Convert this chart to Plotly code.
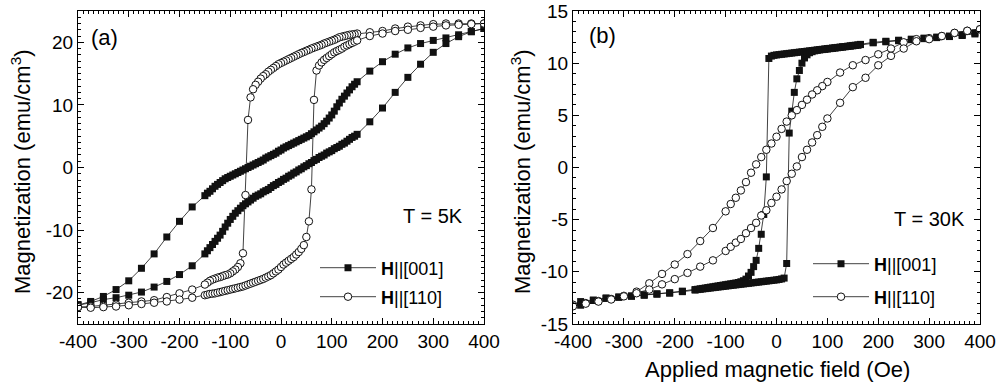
import plotly.graph_objects as go

# ---------------- data ----------------
# Panel (a), T = 5K : field grid for the descending branch (+400 -> -400), Oe
A_FIELD_DOWN = [400, 375, 350, 325, 300, 275, 250, 225, 200, 175, 150,
                145, 140, 135, 130, 125, 120, 115, 110, 105, 100,
                95, 90, 85, 80, 75, 70, 65, 60, 55, 50,
                45, 40, 35, 30, 25, 20, 15, 10, 5, 0,
                -5, -10, -15, -20, -25, -30, -35, -40, -45, -50,
                -55, -60, -65, -70, -75, -80, -85, -90, -95, -100,
                -105, -110, -115, -120, -125, -130, -135, -140, -145,
                -150, -175, -200, -225, -250, -275, -300, -325, -350, -375, -400]
A_FIELD_UP = A_FIELD_DOWN[::-1]

# H || [001], squares
a_sq_down = [22.2, 21.7, 21.2, 20.7, 20.3, 19.8, 19.1, 18.1, 16.9, 15.4, 13.7,
             13.3, 12.9, 12.4, 11.9, 11.4, 10.9, 10.3, 9.7, 9.0, 8.4,
             7.9, 7.4, 7.0, 6.6, 6.3, 6.0, 5.7, 5.4, 5.1, 4.9,
             4.7, 4.5, 4.3, 4.1, 3.9, 3.7, 3.5, 3.3, 3.1, 2.8,
             2.6, 2.3, 2.1, 1.9, 1.7, 1.5, 1.2, 1.0, 0.8, 0.6,
             0.4, 0.2, 0.0, -0.2, -0.4, -0.6, -0.8, -1.0, -1.2, -1.4,
             -1.6, -1.8, -2.1, -2.4, -2.7, -3.0, -3.4, -3.8, -4.1,
             -4.5, -6.3, -8.6, -11.1, -13.8, -16.1, -18.1, -19.5, -20.6, -21.4, -21.9]
a_sq_up = [-22.0, -21.6, -21.1, -20.8, -20.4, -19.9, -19.1, -18.2, -17.1, -15.7, -13.8,
           -13.3, -12.8, -12.3, -11.8, -11.3, -10.8, -10.2, -9.5, -8.9, -8.3,
           -7.8, -7.3, -6.9, -6.5, -6.1, -5.8, -5.5, -5.2, -4.9, -4.6,
           -4.4, -4.2, -3.9, -3.7, -3.5, -3.2, -2.9, -2.7, -2.4,
           -2.2, -1.9, -1.7, -1.4, -1.2, -0.9, -0.7, -0.4, -0.2, 0.1,
           0.3, 0.6, 0.8, 1.1, 1.3, 1.6, 1.8, 2.0, 2.3, 2.5,
           2.7, 3.0, 3.2, 3.4, 3.7, 3.9, 4.2, 4.5, 4.8, 5.0,
           5.3, 7.3, 9.5, 12.0, 14.4, 16.5, 18.4, 19.8, 20.9, 21.7, 22.2]

# H || [110], circles
a_ci_down = [23.0, 23.0, 23.0, 23.0, 22.9, 22.7, 22.5, 22.2, 21.8, 21.6, 21.4,
             21.3, 21.25, 21.2, 21.1, 21.0, 20.9, 20.8, 20.6, 20.4, 20.25,
             20.1, 19.95, 19.8, 19.6, 19.45, 19.3, 19.15, 19.0, 18.8, 18.65,
             18.45, 18.3, 18.1, 17.9, 17.7, 17.5, 17.3, 17.1, 16.9, 16.7,
             16.5, 16.2, 15.9, 15.6, 15.3, 14.9, 14.6, 14.2, 13.7, 13.2,
             12.5, 11.2, 7.6, -4.4, -13.7, -15.3, -15.9, -16.3, -16.6, -16.9,
             -17.1, -17.2, -17.35, -17.5, -17.6, -17.75, -17.9, -18.1, -18.4,
             -18.7, -19.5, -20.1, -20.7, -21.2, -21.4, -21.6, -21.9, -22.1, -22.2, -22.3]
a_ci_up = [-22.3, -22.4, -22.3, -22.2, -22.0, -21.8, -21.6, -21.4, -21.1, -20.8, -20.4,
           -20.3, -20.2, -20.15, -20.1, -20.0, -19.9, -19.8, -19.7, -19.6, -19.5,
           -19.4, -19.3, -19.2, -19.1, -19.0, -18.85, -18.7, -18.55, -18.4, -18.25,
           -18.1, -17.95, -17.8, -17.6, -17.4, -17.2, -16.9, -16.6, -16.3,
           -15.9, -15.5, -15.2, -14.9, -14.6, -14.3, -13.9, -13.5, -13.0, -12.4,
           -11.1, -8.6, -3.5, 10.8, 15.5, 16.3, 16.8, 17.2, 17.5, 17.8,
           18.1, 18.4, 18.6, 18.8, 19.0, 19.3, 19.5, 19.7, 19.9, 20.1,
           20.3, 21.0, 21.4, 21.8, 22.0, 22.3, 22.5, 22.7, 22.8, 22.9, 23.0]

# Panel (b), T = 30K : H || [001] squares, descending grid (Oe)
B_SQ_FIELD_DOWN = [390, 365, 340, 315, 290, 265, 240, 215, 190, 165,
                   160, 155, 150, 145, 140, 135, 130, 125, 120, 115, 110, 105, 100,
                   95, 90, 85, 80, 75, 70, 65, 60, 55, 50, 45, 40, 35, 30, 25, 20,
                   15, 10, 5, 0, -5, -10, -15, -20, -25, -30, -35, -40, -45, -50,
                   -55, -60, -65, -70, -75, -80, -85, -90, -95, -100, -105, -110,
                   -115, -120, -125, -130, -135, -140, -145, -150, -155,
                   -160, -185, -210, -235, -260, -285, -310, -335, -360, -385]
B_SQ_FIELD_UP = B_SQ_FIELD_DOWN[::-1]
b_sq_down = [12.9, 12.7, 12.6, 12.5, 12.4, 12.3, 12.2, 12.1, 12.0, 11.8,
             11.75, 11.72, 11.70, 11.66, 11.63, 11.60, 11.57, 11.54, 11.51, 11.48, 11.45, 11.42, 11.39,
             11.36, 11.33, 11.30, 11.27, 11.24, 11.21, 11.18, 11.15, 11.12, 11.09, 11.06, 11.03, 11.00, 10.97, 10.94, 10.91,
             10.88, 10.85, 10.82, 10.79, 10.75, 10.68, 10.45, -0.9, -4.5, -6.4, -7.75, -8.9, -9.5, -10.05,
             -10.4, -10.7, -10.85, -10.95, -11.02, -11.07, -11.11, -11.15, -11.19, -11.23, -11.27, -11.31,
             -11.35, -11.39, -11.43, -11.47, -11.51, -11.55, -11.59, -11.63, -11.67,
             -11.7, -11.85, -12.0, -12.1, -12.2, -12.3, -12.4, -12.5, -12.7, -12.85]
b_sq_up = [-13.2, -12.75, -12.55, -12.45, -12.35, -12.25, -12.15, -12.05, -11.9, -11.75,
           -11.7, -11.67, -11.64, -11.61, -11.58, -11.55, -11.52, -11.49, -11.46, -11.43,
           -11.4, -11.37, -11.34, -11.31, -11.28, -11.25, -11.22, -11.19, -11.16, -11.13,
           -11.1, -11.07, -11.04, -11.01, -10.98, -10.95, -10.92, -10.89, -10.86, -10.83, -10.8,
           -10.77, -10.73, -10.68, -10.6, -9.2, 3.3, 5.4, 7.2, 8.5, 9.3, 10.0, 10.5, 10.8,
           11.0, 11.1, 11.18, 11.23, 11.27, 11.3, 11.33, 11.36, 11.39, 11.42, 11.45, 11.48,
           11.51, 11.54, 11.57, 11.6, 11.63, 11.66, 11.69, 11.72,
           11.78, 11.95, 12.05, 12.15, 12.25, 12.35, 12.45, 12.55, 12.65, 12.8]

# Panel (b) : H || [110] circles, descending grid (Oe)
B_CI_FIELD_DOWN = [400, 375, 350, 325, 300, 275, 250, 225, 200, 175, 150, 125, 100,
                   90, 80, 70, 60, 50, 40, 30, 20, 10, 0, -10, -20, -30, -40, -50,
                   -60, -70, -80, -90,
                   -100, -125, -150, -175, -200, -225, -250, -275, -300, -325, -350, -375, -400]
B_CI_FIELD_UP = B_CI_FIELD_DOWN[::-1]
b_ci_down = [13.25, 13.1, 12.9, 12.6, 12.4, 12.3, 12.0, 11.4, 10.85, 10.3, 9.8, 9.1, 8.2,
             7.8, 7.4, 7.0, 6.5, 6.0, 5.5, 5.0, 4.4, 3.7, 2.95, 2.3, 1.7, 1.0, 0.3, -0.5,
             -1.4, -2.2, -2.9, -3.5,
             -4.2, -5.8, -7.05, -8.3, -9.3, -10.2, -11.1, -11.9, -12.3, -12.6, -12.8, -13.0, -13.15]
b_ci_up = [-13.3, -13.05, -12.85, -12.65, -12.35, -12.05, -11.7, -11.2, -10.7, -10.1, -9.5, -8.9, -8.0,
           -7.6, -7.2, -6.85, -6.3, -5.8, -5.3, -4.6, -4.1, -3.4, -2.8, -2.1, -1.3, -0.6, 0.1, 1.0,
           1.7, 2.4, 3.1, 3.9,
           4.7, 6.2, 7.7, 8.6, 9.8, 10.7, 11.4, 12.1, 12.3, 12.6, 12.9, 13.1, 13.25]

X_TICKS = [-400, -300, -200, -100, 0, 100, 200, 300, 400]
X_TICK_TEXT = ["-400", "-300", "-200", "-100", "0", "100", "200", "300", "400"]
YA_TICKS = [-20, -10, 0, 10, 20]
YA_TICK_TEXT = ["-20", "-10", "0", "10", "20"]
YB_TICKS = [-15, -10, -5, 0, 5, 10, 15]
YB_TICK_TEXT = ["-15", "-10", "-5", "0", "5", "10", "15"]

LEG_001 = "<b>H</b>||[001]"
LEG_110 = "<b>H</b>||[110]"

# ---------------- figure ----------------
W, H = 999, 389
FONT = "Liberation Sans, Arial, Helvetica, sans-serif"

def px(x):
    return x / W

def py(y):
    return (H - y) / H

sq_style = dict(mode="lines+markers",
                line=dict(color="#111111", width=0.8),
                marker=dict(symbol="square", size=7, color="#111111", line=dict(width=0)))
ci_style = dict(mode="lines+markers",
                line=dict(color="#111111", width=0.8),
                marker=dict(symbol="circle", size=7.5, color="white",
                            line=dict(color="#111111", width=1)))

fig = go.Figure()
fig.add_trace(go.Scatter(x=A_FIELD_DOWN + A_FIELD_UP, y=a_sq_down + a_sq_up,
                         name=LEG_001, xaxis="x", yaxis="y", legend="legend2", **sq_style))
fig.add_trace(go.Scatter(x=A_FIELD_DOWN + A_FIELD_UP, y=a_ci_down + a_ci_up,
                         name=LEG_110, xaxis="x", yaxis="y", legend="legend3", **ci_style))
fig.add_trace(go.Scatter(x=B_SQ_FIELD_DOWN + B_SQ_FIELD_UP, y=b_sq_down + b_sq_up,
                         name=LEG_001, xaxis="x2", yaxis="y2", legend="legend4", **sq_style))
fig.add_trace(go.Scatter(x=B_CI_FIELD_DOWN + B_CI_FIELD_UP, y=b_ci_down + b_ci_up,
                         name=LEG_110, xaxis="x2", yaxis="y2", legend="legend5", **ci_style))

def axis_common(minor_dtick):
    return dict(showline=True, linecolor="black", linewidth=1, mirror="allticks",
                ticks="inside", ticklen=6, tickwidth=1, tickcolor="black",
                minor=dict(ticks="inside", ticklen=3, tickwidth=1, tickcolor="black",
                           tickmode="linear", tick0=0, dtick=minor_dtick),
                showgrid=False, zeroline=False, automargin=False,
                tickfont=dict(family=FONT, size=19, color="black"),
                tickmode="array")

ydom = [py(324), py(11)]
fig.update_layout(
    width=W, height=H, margin=dict(l=0, r=0, t=0, b=0),
    paper_bgcolor="white", plot_bgcolor="white", showlegend=True,
    font=dict(family=FONT, color="black"),
    xaxis=dict(domain=[px(78), px(484)], range=[-400, 400], anchor="y",
               tickvals=X_TICKS, ticktext=X_TICK_TEXT, **axis_common(10)),
    yaxis=dict(domain=ydom, range=[-25, 25], anchor="x",
               tickvals=YA_TICKS, ticktext=YA_TICK_TEXT, **axis_common(1)),
    xaxis2=dict(domain=[px(573), px(980)], range=[-400, 400], anchor="y2",
                tickvals=X_TICKS, ticktext=X_TICK_TEXT, **axis_common(10)),
    yaxis2=dict(domain=ydom, range=[-15, 15], anchor="x2",
                tickvals=YB_TICKS, ticktext=YB_TICK_TEXT, **axis_common(1)),
)

leg_common = dict(font=dict(family=FONT, size=18, color="black"), bgcolor="rgba(0,0,0,0)",
                  borderwidth=0, itemwidth=56, xanchor="left", yanchor="middle",
                  itemclick=False, itemdoubleclick=False, visible=True)
fig.update_layout(
    legend=dict(visible=False),
    legend2=dict(x=px(315), y=py(268), **leg_common),
    legend3=dict(x=px(315), y=py(297), **leg_common),
    legend4=dict(x=px(808), y=py(264), **leg_common),
    legend5=dict(x=px(808), y=py(297), **leg_common),
)

ann = []
def add_text(text, x, y, size, xanchor="center", angle=0):
    ann.append(dict(text=text, x=px(x), y=py(y), xref="paper", yref="paper",
                    xanchor=xanchor, yanchor="middle", showarrow=False, textangle=angle,
                    font=dict(family=FONT, size=size, color="black")))

add_text("(a)", 89, 37, 22, "left")
add_text("(b)", 587, 35, 22, "left")
add_text("T = 5K", 465, 216, 20, "right")
add_text("T = 30K", 967, 219, 20, "right")
add_text("Magnetization (emu/cm<sup>3</sup>)", 21, 172, 22, "center", -90)
add_text("Magnetization (emu/cm<sup>3</sup>)", 521, 172, 22, "center", -90)
add_text("Applied magnetic field (Oe)", 777, 369, 22, "center")
fig.update_layout(annotations=ann)

fig.write_html("out.html")
